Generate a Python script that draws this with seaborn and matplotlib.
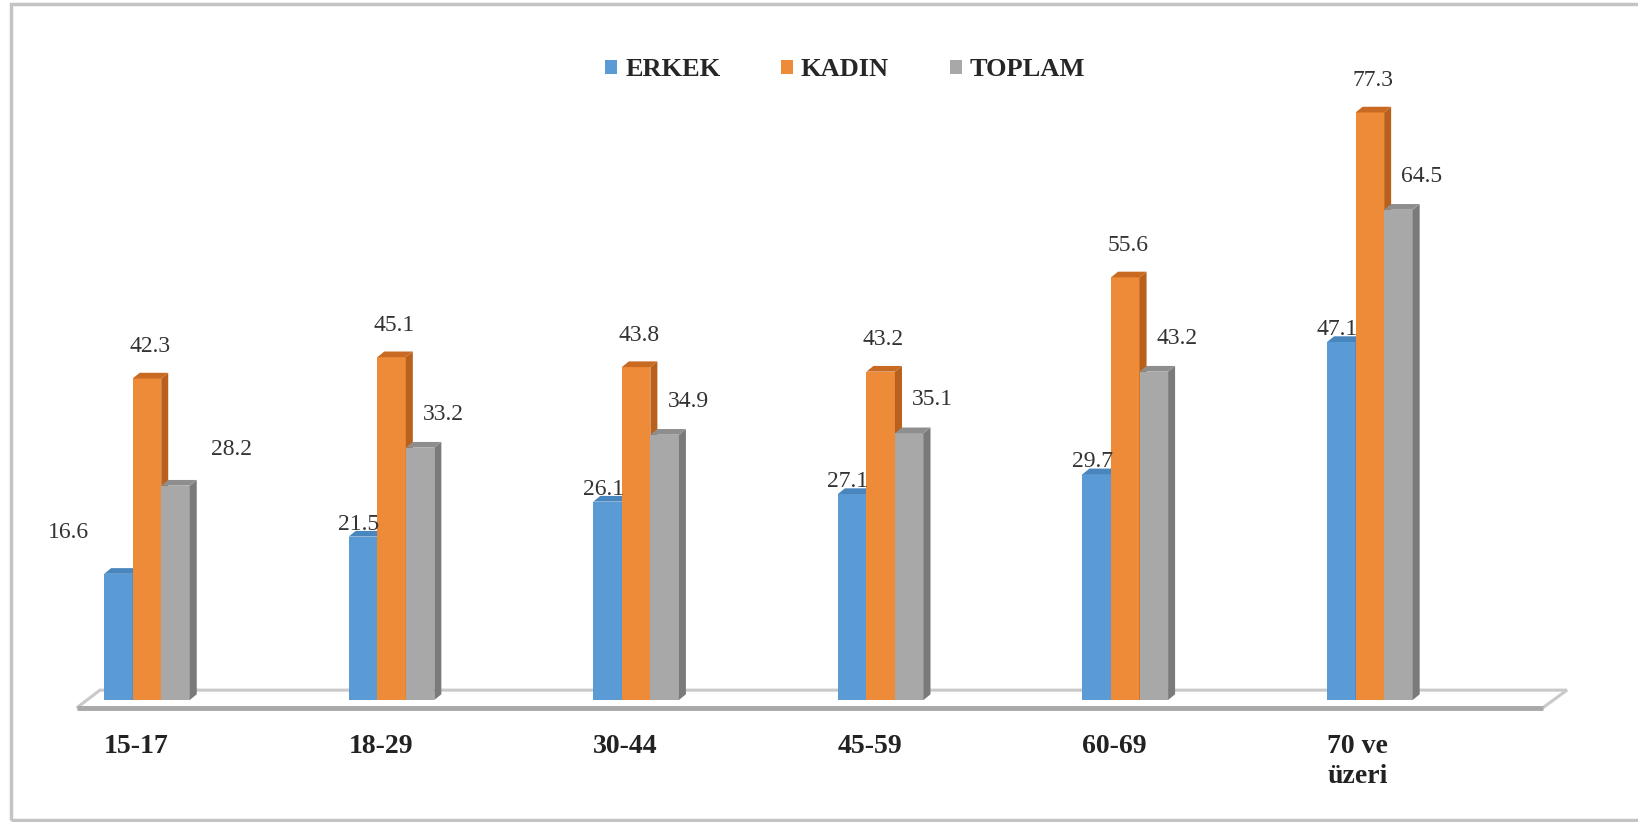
import numpy as np
import pandas as pd
import matplotlib
matplotlib.use('Agg')
import matplotlib.pyplot as plt
from matplotlib.patches import Polygon, Rectangle, Patch
import seaborn as sns

# Yaş grupları ve oranlar (%)
yas_gruplari = ['15-17', '18-29', '30-44', '45-59', '60-69', '70 ve\nüzeri']
seriler = ['ERKEK', 'KADIN', 'TOPLAM']
erkek = [16.6, 21.5, 26.1, 27.1, 29.7, 47.1]
kadin = [42.3, 45.1, 43.8, 43.2, 55.6, 77.3]
toplam = [28.2, 33.2, 34.9, 35.1, 43.2, 64.5]

renkler = {'ERKEK': '#5B9BD5', 'KADIN': '#ED8B38', 'TOPLAM': '#A8A8A8'}
yan_renk = {'ERKEK': '#3F76A8', 'KADIN': '#B9601C', 'TOPLAM': '#7A7A7A'}
ust_renk = {'ERKEK': '#4A86BE', 'KADIN': '#C96A22', 'TOPLAM': '#8E8E8E'}

df = pd.DataFrame({
    'grup': yas_gruplari * 3,
    'seri': np.repeat(seriler, len(yas_gruplari)),
    'oran': erkek + kadin + toplam,
})

sns.set_theme(style='white')
plt.rcParams['font.family'] = ['Liberation Serif', 'DejaVu Serif']

W, H = 1638, 822
fig = plt.figure(figsize=(W / 100, H / 100), dpi=100)
ax = fig.add_axes([77 / W, 1 - 720 / H, (1567 - 77) / W, (720 - 60) / H])

genislik = 0.35
sns.barplot(data=df, x='grup', y='oran', hue='seri', hue_order=seriler,
            palette=renkler, saturation=1, width=genislik, ax=ax,
            legend=False, errorbar=None, linewidth=0)

ax.set_xlim(-0.286, 5.806)
ax.set_ylim(-2.63, 84.2)

# 3B görünüm: yan ve üst yüzler
dx = 7 / 244.5
dy = 0.75
bar_list = []
for cont, seri in zip(ax.containers, seriler):
    for bar in cont:
        bar_list.append((bar.get_x(), bar, seri))
bar_list.sort(key=lambda t: t[0])
for k, (_, bar, seri) in enumerate(bar_list):
    x0 = bar.get_x()
    x1 = x0 + bar.get_width()
    h = bar.get_height()
    z = 3 + k
    bar.set_zorder(z)
    yan = Polygon([(x1, 0), (x1 + dx, dy), (x1 + dx, h + dy), (x1, h)],
                  closed=True, fc=yan_renk[seri], ec='none', zorder=z + 0.5)
    ust = Polygon([(x0, h), (x1, h), (x1 + dx, h + dy), (x0 + dx, h + dy)],
                  closed=True, fc=ust_renk[seri], ec='none', zorder=z + 0.5)
    ax.add_patch(yan)
    ax.add_patch(ust)

# Zemin
zemin = Polygon([(-0.286, -1.0), (-0.192, 1.3), (5.806, 1.3), (5.708, -1.0)],
                closed=True, fc='white', ec='#c9c9c9', lw=2.2, zorder=1,
                clip_on=False)
ax.add_patch(zemin)
ax.plot([-0.286, 5.708], [-1.0, -1.0], color='#a9a9a9', lw=3.5, zorder=1.5,
        clip_on=False, solid_capstyle='butt')

# Değer etiketleri
kaydirma = {'ERKEK': (-3, 9), 'KADIN': (2, 23), 'TOPLAM': (17, 24)}
for cont, seri in zip(ax.containers, seriler):
    for i, bar in enumerate(cont):
        h = bar.get_height()
        xc = bar.get_x() + bar.get_width() / 2
        ofs = kaydirma[seri]
        # ilk grupta etiketler biraz daha dışarıda duruyor
        if i == 0 and seri == 'ERKEK':
            ofs = (-36, 30)
        elif i == 0 and seri == 'TOPLAM':
            ofs = (40, 26)
        ax.annotate(f'{h:.1f}', (xc, h), xytext=ofs,
                    textcoords='offset points', ha='center', va='center',
                    fontsize=17, color='#333333', zorder=50)

# Eksen etiketleri
ax.set_xticks(np.arange(len(yas_gruplari)) - genislik / 2)
ax.set_xticklabels(yas_gruplari, ha='left', fontsize=20, fontweight='bold',
                   color='#222222', linespacing=1.25)
ax.tick_params(axis='x', length=0, pad=10)
ax.set_yticks([])
ax.set_xlabel('')
ax.set_ylabel('')
for s in ax.spines.values():
    s.set_visible(False)
ax.patch.set_alpha(0)

# Gösterge
handles = [Patch(fc=renkler[s], ec='none') for s in seriler]
fig.legend(handles, seriler, loc='center', bbox_to_anchor=(0.516, 1 - 70 / H),
           ncol=3, frameon=False, handlelength=0.45, handleheight=0.45,
           handletextpad=0.3, columnspacing=2.3,
           prop={'weight': 'bold', 'size': 19, 'family': 'Liberation Serif'})

# Çerçeve
fig.add_artist(Rectangle((11 / W, 2 / H), 1.0, 1 - 6 / H,
                         transform=fig.transFigure, fill=False,
                         ec='#c4c4c4', lw=2.5))

fig.savefig('out.png', dpi=100)
